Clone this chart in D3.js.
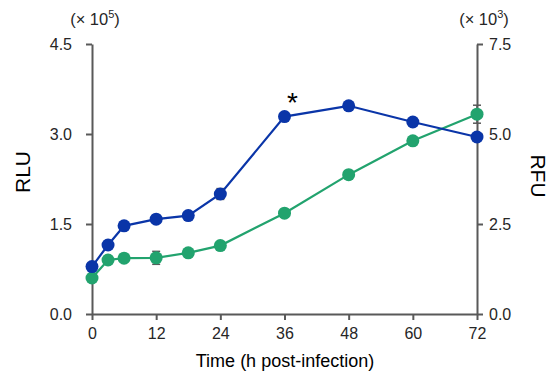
<!DOCTYPE html>
<html>
<head>
<meta charset="utf-8">
<script src="https://cdn.jsdelivr.net/npm/d3@7"></script>
<style>
  html, body { margin: 0; padding: 0; background: #fff; }
  svg { display: block; font-family: "Liberation Sans", Arial, sans-serif; }
</style>
</head>
<body>
<svg id="chart" width="550" height="378"></svg>
<script>
// ---- data ----
const times = [0, 3, 6, 12, 18, 24, 36, 48, 60, 72];
const rlu = [0.79, 1.15, 1.47, 1.58, 1.64, 2.00, 3.29, 3.47, 3.20, 2.95];     // ×10^5
const rluErr = [0.03, 0.06, 0.03, 0.03, 0.03, 0.09, 0.04, 0.05, 0.03, 0.03];
const rfu = [1.00, 1.50, 1.55, 1.56, 1.70, 1.90, 2.80, 3.87, 4.81, 5.55];      // ×10^3
const rfuErr = [0.05, 0.08, 0.05, 0.18, 0.05, 0.05, 0.05, 0.06, 0.06, 0.25];
const xTicks = [0, 12, 24, 36, 48, 60, 72];
const leftTicks = [0, 1.5, 3.0, 4.5];
const rightTicks = [0, 2.5, 5.0, 7.5];

const blue = "#0a35a8";
const green = "#22a36e";
const axisColor = "#595959";

const svg = d3.select("#chart");
const m = { left: 92, right: 477, top: 44, bottom: 314 };

const x = d3.scaleLinear().domain([0, 72]).range([m.left, m.right]);
const yL = d3.scaleLinear().domain([0, 4.5]).range([m.bottom, m.top]);
const yR = d3.scaleLinear().domain([0, 7.5]).range([m.bottom, m.top]);

function styleAxis(g) {
  g.selectAll("path.domain").attr("stroke", axisColor).attr("stroke-width", 2);
  g.selectAll(".tick line").attr("stroke", axisColor).attr("stroke-width", 2);
  g.selectAll(".tick text").attr("fill", "#262626").style("font-size", "16px")
    .style("font-family", "'Liberation Sans', Arial, sans-serif");
}

// axes
const gx = svg.append("g").attr("transform", `translate(0,${m.bottom})`)
  .call(d3.axisBottom(x).tickValues(xTicks).tickSize(6).tickSizeOuter(0).tickPadding(8));
styleAxis(gx);

const gl = svg.append("g").attr("transform", `translate(${m.left},0)`)
  .call(d3.axisLeft(yL).tickValues(leftTicks).tickFormat(d3.format(".1f")).tickSize(6).tickSizeOuter(0).tickPadding(14));
styleAxis(gl);

const gr = svg.append("g").attr("transform", `translate(${m.right},0)`)
  .call(d3.axisRight(yR).tickValues(rightTicks).tickFormat(d3.format(".1f")).tickSize(6).tickSizeOuter(0).tickPadding(6));
styleAxis(gr);

// series
function drawSeries(vals, errs, yScale, color) {
  const data = times.map((t, i) => ({ t, v: vals[i], e: errs[i] }));
  const g = svg.append("g");
  const eb = g.selectAll("g.err").data(data).enter().append("g").attr("class", "err")
    .attr("stroke", axisColor).attr("stroke-width", 1.5);
  eb.append("line")
    .attr("x1", d => x(d.t)).attr("x2", d => x(d.t))
    .attr("y1", d => yScale(d.v - d.e)).attr("y2", d => yScale(d.v + d.e));
  eb.append("line")
    .attr("x1", d => x(d.t) - 4).attr("x2", d => x(d.t) + 4)
    .attr("y1", d => yScale(d.v + d.e)).attr("y2", d => yScale(d.v + d.e));
  eb.append("line")
    .attr("x1", d => x(d.t) - 4).attr("x2", d => x(d.t) + 4)
    .attr("y1", d => yScale(d.v - d.e)).attr("y2", d => yScale(d.v - d.e));
  g.append("path").datum(data)
    .attr("fill", "none").attr("stroke", color).attr("stroke-width", 2.2)
    .attr("d", d3.line().x(d => x(d.t)).y(d => yScale(d.v)));
  g.selectAll("circle").data(data).enter().append("circle")
    .attr("cx", d => x(d.t)).attr("cy", d => yScale(d.v)).attr("r", 6.5)
    .attr("fill", color);
}
drawSeries(rfu, rfuErr, yR, green);
drawSeries(rlu, rluErr, yL, blue);

// axis titles
svg.append("text").attr("transform", "translate(30,172) rotate(-90)")
  .attr("text-anchor", "middle").attr("fill", "#000").style("font-size", "21px").text("RLU");
svg.append("text").attr("transform", "translate(531,176) rotate(90)")
  .attr("text-anchor", "middle").attr("fill", "#000").style("font-size", "21px").text("RFU");
svg.append("text").attr("x", 285).attr("y", 367)
  .attr("text-anchor", "middle").attr("fill", "#000").style("font-size", "18px")
  .text("Time (h post-infection)");

// multipliers
function mult(xc, exp) {
  const t = svg.append("text").attr("x", xc).attr("y", 25).attr("text-anchor", "middle")
    .attr("fill", "#262626").style("font-size", "16.5px");
  t.append("tspan").text("(× 10");
  t.append("tspan").attr("dy", -7).style("font-size", "11px").text(exp);
  t.append("tspan").attr("dy", 7).text(")");
}
mult(95, "5");
mult(484, "3");

// significance marker
svg.append("text").attr("x", x(36) + 8).attr("y", 112).attr("text-anchor", "middle")
  .attr("fill", "#000").style("font-size", "28px").text("*");
</script>
</body>
</html>
